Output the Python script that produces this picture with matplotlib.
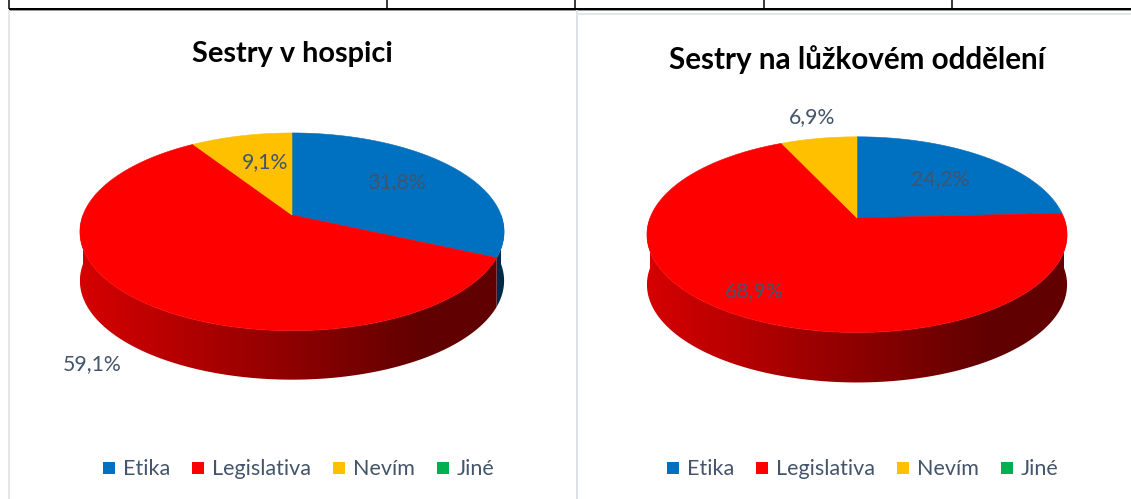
import numpy as np
import matplotlib
matplotlib.use('Agg')
import matplotlib.pyplot as plt
from matplotlib.patches import Polygon, Rectangle
from matplotlib.colors import to_rgb

# ---------------- data ----------------
categories = ['Etika', 'Legislativa', 'Nevím', 'Jiné']
hospic_values = [31.8, 59.1, 9.1, 0.0]
ward_values = [24.2, 68.9, 6.9, 0.0]
titles = ['Sestry v hospici', 'Sestry na lůžkovém oddělení']
colors = ['#0070C0', '#FF0000', '#FFC000', '#00B050']

# ---------------- layout ----------------
W, H = 1131, 499
FONT = ['Lato', 'DejaVu Sans']
TXT = '#44546A'
K = 0.17  # perspective factor

fig = plt.figure(figsize=(W / 100, H / 100), dpi=100)
ax = fig.add_axes([0, 0, 1, 1])
ax.axis('off')
renderer = fig.canvas.get_renderer()


def text_size_for(s, width, weight='normal', size0=14):
    t = ax.text(0, 0, s, fontsize=size0, family=FONT, weight=weight)
    w = t.get_window_extent(renderer).width
    t.remove()
    return size0 * width / w


def proj(cx, cy, R, B, t):
    c, s = np.cos(t), np.sin(t)
    d = 1 + K * s
    return cx + R * c / d, cy - B * s / d


def draw_pie(values, cx, cy, R, B, depth):
    total = float(sum(values))
    start = np.pi / 2
    cum = 0.0
    spans = []
    for v in values:
        t_hi = start - cum / total * 2 * np.pi
        cum += v
        t_lo = start - cum / total * 2 * np.pi
        spans.append((t_lo, t_hi))
    xl = cx - R / np.sqrt(1 - K * K)
    wid = 2 * R / np.sqrt(1 - K * K)
    uu = np.linspace(0, 1, 400)
    fac = np.maximum(0.38, 0.84 - 0.57 * uu)
    # side walls (front half) with horizontal gradient
    for (t_lo, t_hi), v, col in zip(spans, values, colors):
        if v <= 0:
            continue
        base = np.array(to_rgb(col))
        grad = np.clip(fac[None, :, None] * base[None, None, :], 0, 1)
        grad = np.repeat(grad, 2, axis=0)
        for kk in (-1, 0, 1, 2):
            a = max(t_lo + 2 * np.pi * kk, np.pi)
            b = min(t_hi + 2 * np.pi * kk, 2 * np.pi)
            if b <= a:
                continue
            ts = np.linspace(a, b, max(3, int(np.degrees(b - a) * 2) + 2))
            xs, ys = proj(cx, cy, R, B, ts)
            pts = list(zip(xs, ys)) + list(zip(xs[::-1], ys[::-1] + depth))
            poly = Polygon(pts, closed=True, facecolor='none', edgecolor='none', zorder=1)
            ax.add_patch(poly)
            im = ax.imshow(grad, extent=[xl, xl + wid, cy + B * 3, cy - B * 3],
                           aspect='auto', interpolation='bilinear', zorder=1)
            im.set_clip_path(poly)
    # top faces
    for (t_lo, t_hi), v, col in zip(spans, values, colors):
        if v <= 0:
            continue
        ts = np.linspace(t_hi, t_lo, max(3, int(np.degrees(t_hi - t_lo)) + 2))
        xs, ys = proj(cx, cy, R, B, ts)
        pts = [(cx, cy)] + list(zip(xs, ys))
        ax.add_patch(Polygon(pts, closed=True, facecolor=col, edgecolor=col, lw=0.4, zorder=2))


def pct(v):
    return ('%.1f%%' % v).replace('.', ',')


def draw_legend(x, y_base):
    size = text_size_for('Legislativa', 99)
    for cat, col in zip(categories, colors):
        ax.add_patch(Rectangle((x, y_base - 13), 12, 12, facecolor=col, edgecolor='none', zorder=3))
        t = ax.text(x + 20, y_base, cat, fontsize=size, family=FONT, color=TXT,
                    ha='left', va='baseline', zorder=4)
        w = t.get_window_extent(renderer).width
        x = x + 20 + w + 22


ax.set_xlim(0, W)
ax.set_ylim(H, 0)

# ---------------- charts ----------------
draw_pie(hospic_values, 292, 215, 209, 96, 49)
draw_pie(ward_values, 857, 218, 207, 95, 50)

ax.set_xlim(0, W)
ax.set_ylim(H, 0)

# ---------------- frame lines ----------------
px = 0.72
ax.plot([9, W], [8.5, 8.5], color='black', lw=2 * px, solid_capstyle='butt', zorder=5)
ax.plot([9, W], [10.3, 10.3], color='#9a9a9a', lw=1 * px, solid_capstyle='butt', zorder=5)
for xv in [9, 387, 575, 764, 952]:
    ax.plot([xv, xv], [0, 8.5], color='black', lw=1.5 * px, solid_capstyle='butt', zorder=5)
ax.plot([8.5, 8.5], [11, H], color='#dde0e5', lw=1.5 * px, zorder=5)
ax.plot([576.5, 576.5], [11, H], color='#dde0e5', lw=2 * px, zorder=5)
ax.plot([577, W], [14, 14], color='#e3e6ea', lw=2 * px, zorder=5)

# titles
tsize = text_size_for(titles[0], 201, weight='bold')
ax.text(292.5, 62, titles[0], fontsize=tsize, family=FONT, weight='bold',
        color='black', ha='center', va='baseline', zorder=4)
tsize2 = text_size_for(titles[1], 379, weight='bold')
ax.text(857.5, 69, titles[1], fontsize=tsize2, family=FONT, weight='bold',
        color='black', ha='center', va='baseline', zorder=4)

# data labels
lab_size = text_size_for('59,1%', 59)
left_label_pos = [(396.5, 188), (92.5, 370), (265, 168)]
right_label_pos = [(940, 185), (754.5, 297), (812, 123)]
for v, (lx, ly) in zip(hospic_values[:3], left_label_pos):
    ax.text(lx, ly, pct(v), fontsize=lab_size, family=FONT, color=TXT,
            ha='center', va='baseline', zorder=4)
for v, (lx, ly) in zip(ward_values[:3], right_label_pos):
    ax.text(lx, ly, pct(v), fontsize=lab_size, family=FONT, color=TXT,
            ha='center', va='baseline', zorder=4)

# legends
draw_legend(103, 475)
draw_legend(667, 475)

ax.set_xlim(0, W)
ax.set_ylim(H, 0)
fig.savefig('out.png', dpi=100)
